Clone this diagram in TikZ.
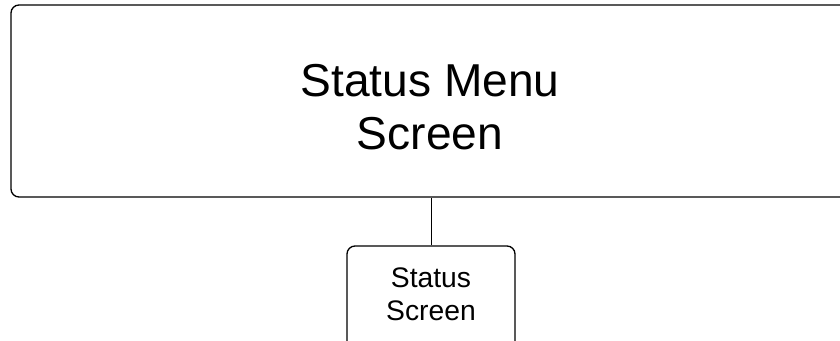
\documentclass[tikz,border=0pt]{standalone}
\usepackage{fontspec}
\setmainfont{Liberation Sans}
\begin{document}
\begin{tikzpicture}[x=0.75pt,y=-0.75pt,
  boxshape/.style={draw=black, line width=1pt, rounded corners=6pt, inner sep=0pt},
  bigtext/.style={align=center, font=\fontsize{34.6}{39.75}\selectfont, inner sep=0pt},
  smalltext/.style={align=center, font=\fontsize{21.2}{24.75}\selectfont, inner sep=0pt},
  link/.style={draw=black, line width=0.75pt}]
\useasboundingbox (0,0) rectangle (840,341);
\clip (0,0) rectangle (840,341);
% parent screen
\node[boxshape, minimum width=838*0.75pt, minimum height=192*0.75pt] (menu) at (430,101) {};
\node[bigtext] (menutxt) at (430,107) {Status Menu\\Screen};
% child screen
\node[boxshape, minimum width=168*0.75pt, minimum height=110*0.75pt] (status) at (431,301) {};
\node[smalltext] (statustxt) at (431,294) {Status\\Screen};
% connector
\draw[link] (status.north) -- (status.north |- menu.south);
\end{tikzpicture}
\end{document}
